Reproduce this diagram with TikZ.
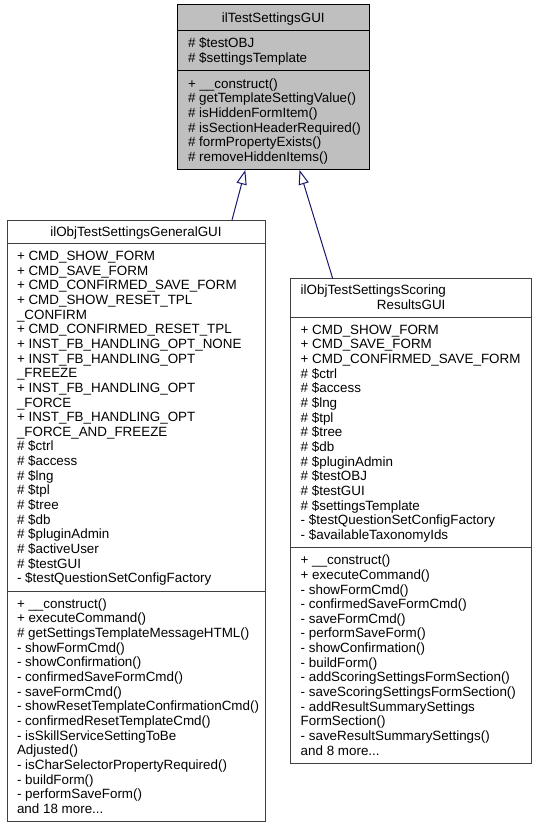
\documentclass[tikz,border=0pt]{standalone}
\usepackage{fontspec}
\setmainfont{Liberation Sans}
\usetikzlibrary{arrows.meta}
\definecolor{edgeblue}{HTML}{191970}
\definecolor{boxgray}{HTML}{BFBFBF}
\definecolor{bordergray}{HTML}{404040}
\begin{document}
\begin{tikzpicture}[x=1pt,y=-1pt,
  txt/.style={inner sep=0pt, outer sep=0pt, anchor=base west, font=\fontsize{13.4}{14.65}\selectfont},
  ttl/.style={txt, anchor=base},
  box/.style={draw=bordergray, line width=1pt, fill=white, inner sep=0pt, outer sep=0pt, anchor=north west},
  sepline/.style={draw=bordergray, line width=1pt},
  inh/.style={draw=edgeblue, line width=1pt, -{Triangle[open, length=14.5pt, width=10.3pt, fill=white]}}
]
\useasboundingbox (0,0) rectangle (538,829);

% base class
\node[box, draw=black, fill=boxgray, minimum width=192pt, minimum height=165pt] (base) at (177.3,5) {};
\draw[sepline, draw=black] (base.west |- 0,30.7) -- (base.east |- 0,30.7);
\draw[sepline, draw=black] (base.west |- 0,70.7) -- (base.east |- 0,70.7);
\node[ttl] (baseT) at (273.3,22.35) {ilTestSettingsGUI};
\foreach \s [count=\i] in {\# \$testOBJ, \# \$settingsTemplate}
  \node[txt] (baseA\i) at (188,{43.4+4.5+(\i-1)*14.65}) {\s};
\foreach \s [count=\i] in {+ \_\_construct(), \# getTemplateSettingValue(), \# isHiddenFormItem(), \# isSectionHeaderRequired(), \# formPropertyExists(), \# removeHiddenItems()}
  \node[txt] (baseM\i) at (188,{83.7+4.5+(\i-1)*14.65}) {\s};

% general GUI
\node[box, minimum width=258pt, minimum height=601.5pt] (gen) at (7,220) {};
\draw[sepline] (gen.west |- 0,243.3) -- (gen.east |- 0,243.3);
\draw[sepline] (gen.west |- 0,591) -- (gen.east |- 0,591);
\node[ttl] (genT) at (136,236.15) {ilObjTestSettingsGeneralGUI};
\foreach \s [count=\i] in {+ CMD\_SHOW\_FORM, + CMD\_SAVE\_FORM, + CMD\_CONFIRMED\_SAVE\_FORM, + CMD\_SHOW\_RESET\_TPL, \_CONFIRM, + CMD\_CONFIRMED\_RESET\_TPL, + INST\_FB\_HANDLING\_OPT\_NONE, + INST\_FB\_HANDLING\_OPT, \_FREEZE, + INST\_FB\_HANDLING\_OPT, \_FORCE, + INST\_FB\_HANDLING\_OPT, \_FORCE\_AND\_FREEZE, \# \$ctrl, \# \$access, \# \$lng, \# \$tpl, \# \$tree, \# \$db, \# \$pluginAdmin, \# \$activeUser, \# \$testGUI, - \$testQuestionSetConfigFactory}
  \node[txt] (genA\i) at (17,{256+4.5+(\i-1)*14.65}) {\s};
\foreach \s [count=\i] in {+ \_\_construct(), + executeCommand(), \# getSettingsTemplateMessageHTML(), - showFormCmd(), - showConfirmation(), - confirmedSaveFormCmd(), - saveFormCmd(), - showResetTemplateConfirmationCmd(), - confirmedResetTemplateCmd(), - isSkillServiceSettingToBe, Adjusted(), - isCharSelectorPropertyRequired(), - buildForm(), - performSaveForm(), and 18 more.{}.{}.}
  \node[txt] (genM\i) at (17,{603.7+4.5+(\i-1)*14.65}) {\s};

% scoring results GUI
\node[box, minimum width=241pt, minimum height=484.9pt] (score) at (290.7,278.5) {};
\draw[sepline] (score.west |- 0,317) -- (score.east |- 0,317);
\draw[sepline] (score.west |- 0,547.5) -- (score.east |- 0,547.5);
\node[txt] (scoreT1) at (300.7,294.9) {ilObjTestSettingsScoring};
\node[ttl] (scoreT2) at (411.2,309.6) {ResultsGUI};
\foreach \s [count=\i] in {+ CMD\_SHOW\_FORM, + CMD\_SAVE\_FORM, + CMD\_CONFIRMED\_SAVE\_FORM, \# \$ctrl, \# \$access, \# \$lng, \# \$tpl, \# \$tree, \# \$db, \# \$pluginAdmin, \# \$testOBJ, \# \$testGUI, \# \$settingsTemplate, - \$testQuestionSetConfigFactory, - \$availableTaxonomyIds}
  \node[txt] (scoreA\i) at (300.7,{329.7+4.5+(\i-1)*14.65}) {\s};
\foreach \s [count=\i] in {+ \_\_construct(), + executeCommand(), - showFormCmd(), - confirmedSaveFormCmd(), - saveFormCmd(), - performSaveForm(), - showConfirmation(), - buildForm(), - addScoringSettingsFormSection(), - saveScoringSettingsFormSection(), - addResultSummarySettings, FormSection(), - saveResultSummarySettings(), and 8 more.{}.{}.}
  \node[txt] (scoreM\i) at (300.7,{560.2+4.5+(\i-1)*14.65}) {\s};

% inheritance
\draw[inh] ([xshift=96pt]gen.north) -- ([xshift=-28pt]base.south);
\draw[inh] ([xshift=-78.5pt]score.north) -- ([xshift=26.2pt]base.south);
\end{tikzpicture}
\end{document}
